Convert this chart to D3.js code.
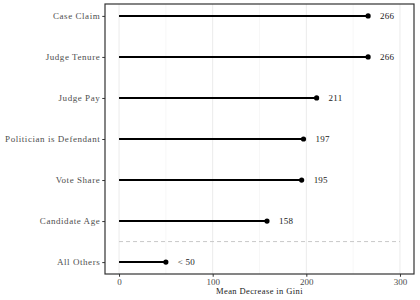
<!DOCTYPE html>
<html lang="en">
<head>
  <meta charset="UTF-8">
  <title>Mean Decrease in Gini</title>
  <script src="https://d3js.org/d3.v7.min.js"></script>
  <style>
    body { margin: 0; background: #fff; }
    svg text { font-family: "Liberation Serif", "DejaVu Serif", serif; }
  </style>
</head>
<body>
  <svg width="420" height="300"></svg>

  <script>
    // variables, top to bottom
    const features = ["Case Claim", "Judge Tenure", "Judge Pay", "Politician is Defendant",
                      "Vote Share", "Candidate Age", "All Others"];
    const gini = [266, 266, 211, 197, 195, 158, 50];
    const valueLabels = ["266", "266", "211", "197", "195", "158", "< 50"];
    const xTicks = [0, 100, 200, 300];
    const xMinor = [50, 150, 250];

    const width = 420, height = 300;
    const panel = { left: 105, right: 414, top: 4, bottom: 274 };
    const svg = d3.select("svg");

    const x = d3.scaleLinear().domain([-15, 315]).range([panel.left, panel.right]);
    const y = d3.scalePoint().domain(features).range([panel.top, panel.bottom]).padding(0.29);

    const g = svg.append("g");

    // grid
    g.selectAll(".minor").data(xMinor).enter().append("line")
      .attr("x1", d => x(d)).attr("x2", d => x(d))
      .attr("y1", panel.top).attr("y2", panel.bottom)
      .attr("stroke", "#f2f2f2").attr("stroke-width", 0.6);
    g.selectAll(".major").data(xTicks).enter().append("line")
      .attr("x1", d => x(d)).attr("x2", d => x(d))
      .attr("y1", panel.top).attr("y2", panel.bottom)
      .attr("stroke", "#ebebeb").attr("stroke-width", 1);

    // separator between top variables and the rest
    const sepY = (y("Candidate Age") + y("All Others")) / 2;
    g.append("line")
      .attr("x1", x(0)).attr("x2", x(300))
      .attr("y1", sepY).attr("y2", sepY)
      .attr("stroke", "#c8c8c8").attr("stroke-dasharray", "4,3");

    const rows = features.map((f, i) => ({ name: f, value: gini[i], label: valueLabels[i] }));

    // lollipops
    g.selectAll(".stem").data(rows).enter().append("line")
      .attr("x1", x(0)).attr("x2", d => x(d.value))
      .attr("y1", d => y(d.name)).attr("y2", d => y(d.name))
      .attr("stroke", "#000").attr("stroke-width", 2);
    g.selectAll(".dot").data(rows).enter().append("circle")
      .attr("cx", d => x(d.value)).attr("cy", d => y(d.name))
      .attr("r", 2.6).attr("fill", "#000");
    g.selectAll(".val").data(rows).enter().append("text")
      .attr("x", d => x(d.value) + 12).attr("y", d => y(d.name))
      .attr("dy", "0.35em").attr("font-size", 9).attr("fill", "#1a1a1a")
      .attr("letter-spacing", 0.2)
      .text(d => d.label);

    // axes
    const xAxis = svg.append("g")
      .attr("transform", `translate(0,${panel.bottom})`)
      .call(d3.axisBottom(x).tickValues(xTicks).tickSize(2.75).tickPadding(2));
    const yAxis = svg.append("g")
      .attr("transform", `translate(${panel.left},0)`)
      .call(d3.axisLeft(y).tickSize(2.75).tickPadding(2));
    [xAxis, yAxis].forEach(a => {
      a.select(".domain").remove();
      a.selectAll(".tick line").attr("stroke", "#333");
      a.selectAll(".tick text").attr("fill", "#4d4d4d").attr("font-size", 9)
        .attr("font-family", "Liberation Serif, serif");
    });
    yAxis.selectAll(".tick text").attr("letter-spacing", 0.55);

    // panel border
    svg.append("rect")
      .attr("x", panel.left).attr("y", panel.top)
      .attr("width", panel.right - panel.left).attr("height", panel.bottom - panel.top)
      .attr("fill", "none").attr("stroke", "#333").attr("stroke-width", 1.2);

    svg.append("text")
      .attr("x", (panel.left + panel.right) / 2).attr("y", 294)
      .attr("text-anchor", "middle").attr("font-size", 8.5).attr("fill", "#1a1a1a")
      .attr("letter-spacing", 0.4)
      .text("Mean Decrease in Gini");
  </script>
</body>
</html>
